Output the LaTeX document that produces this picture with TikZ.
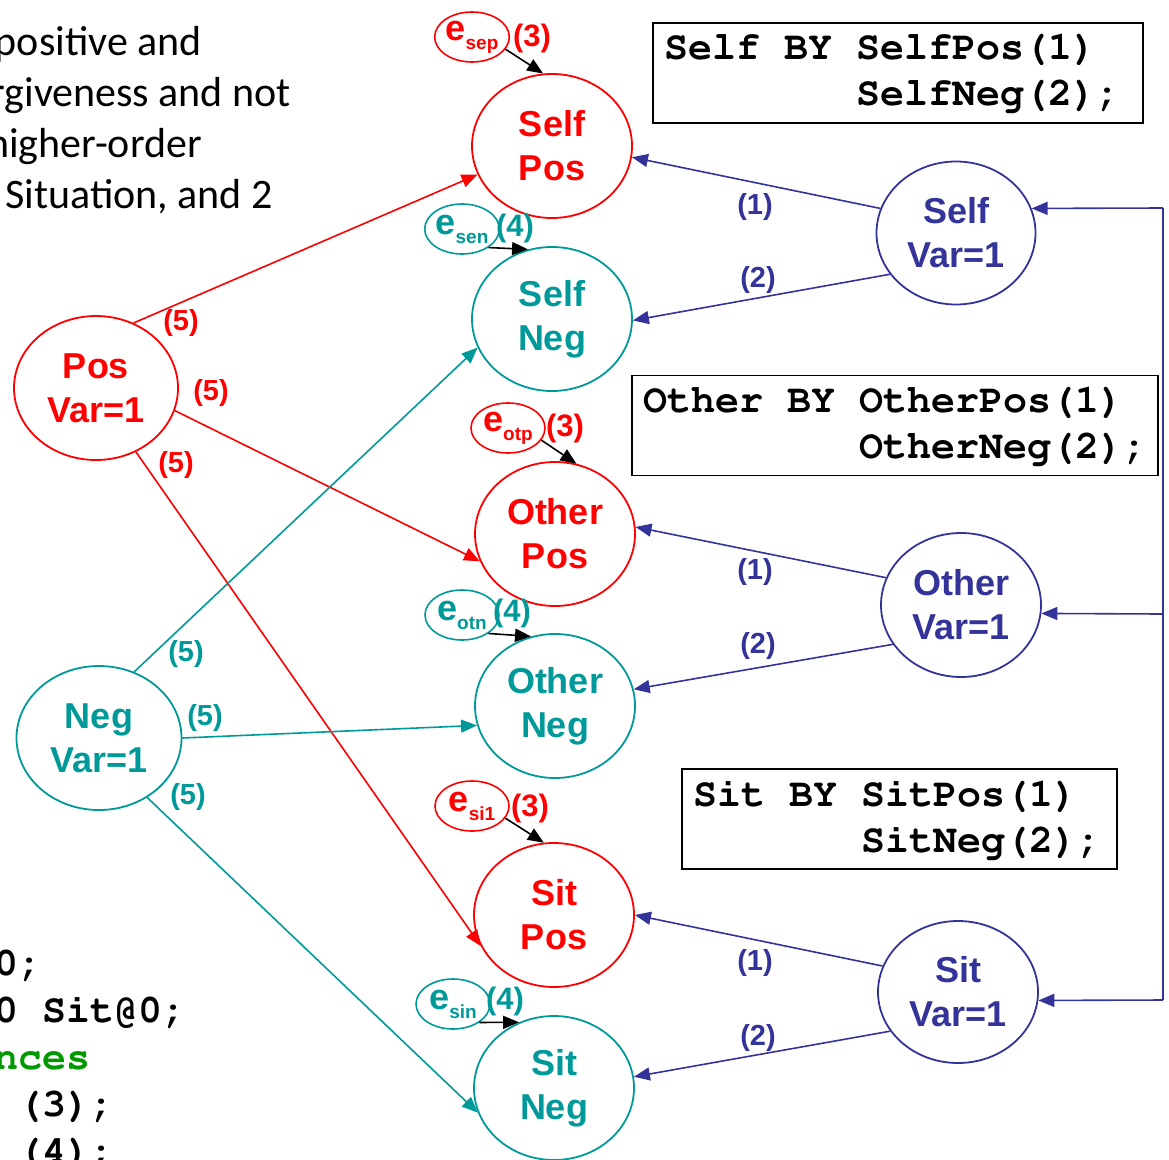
\documentclass[tikz,border=0pt]{standalone}
\usepackage[T1]{fontenc}
\usepackage{fontspec}
\setmainfont{Liberation Sans}
\newfontfamily\slidefont{Carlito}
\newcommand{\codefont}{\fontencoding{T1}\fontfamily{pcr}\selectfont}
\newcommand{\csp}{\hphantom{0}}
\usetikzlibrary{shapes.geometric}
\usetikzlibrary{arrows.meta}
\definecolor{pred}{RGB}{255,0,0}
\definecolor{pteal}{RGB}{0,153,153}
\definecolor{pnavy}{RGB}{51,51,153}
\definecolor{pgreen}{RGB}{0,153,0}
\tikzset{lat/.style={ellipse,draw,line width=1.8pt,minimum width=160pt,minimum height=144pt,inner sep=0pt,align=center,font=\bfseries\fontsize{36}{44}\selectfont},
         err/.style={ellipse,draw,line width=1.6pt,minimum width=74pt,minimum height=50pt,inner sep=0pt,font=\bfseries\fontsize{36}{36}\selectfont},
         arr/.style={line width=1.6pt,-{Triangle[length=16pt,width=13pt]}},
         lab/.style={inner sep=0pt,font=\bfseries\fontsize{29}{29}\selectfont},
         elab/.style={inner sep=0pt,font=\bfseries\fontsize{31}{31}\selectfont},
 codebox/.style={draw,line width=1.8pt,inner xsep=11pt,inner ysep=0pt,minimum height=100pt,align=left,font=\codefont\bfseries\fontsize{40}{46}\selectfont},
    code/.style={anchor=base west,inner sep=0pt,font=\codefont\bfseries\fontsize{40}{46}\selectfont},
   slide/.style={anchor=base east,inner sep=0pt,font=\slidefont\fontsize{42}{51}\selectfont}
         }
\newcommand{\esub}[1]{e\raisebox{-9pt}{\fontsize{19}{19}\selectfont #1}}

\begin{document}
\begin{tikzpicture}[x=1pt,y=-1pt]
\clip (0,0) rectangle (1169,1159);

\node[slide] (t1) at (202,55) {positive and};
\node[slide] (t2) at (291,106) {rgiveness and not};
\node[slide] (t3) at (202,157) {higher-order};
\node[slide] (t4) at (273,208) {Situation, and 2};

\node[code] (c1) at (-6,975) {0;};
\node[code] (c2) at (-6,1022) {0\csp Sit@0;};
\node[code,pgreen] (c3) at (-6,1069) {nces};
\node[code] (c4) at (-6,1116) {\csp(3);};
\node[code] (c5) at (-6,1163) {\csp(4);};

\node[lat,pred] (sp) at (552,146) {Self\\Pos};
\node[lat,pteal] (sn) at (552,319) {Self\\Neg};
\node[lat,pred] (op) at (555,534) {Other\\Pos};
\node[lat,pteal] (on) at (555,706) {Other\\Neg};
\node[lat,pred] (tp) at (554,915) {Sit\\Pos};
\node[lat,pteal] (tn) at (554,1088) {Sit\\Neg};
\node[lat,pred,minimum width=164pt] (pv) at (96,388) {Pos\\Var=1};
\node[lat,pteal,minimum width=165pt] (nv) at (99,738) {Neg\\Var=1};
\node[lat,pnavy,minimum width=159pt,minimum height=143pt] (sv) at (956,233) {Self\\Var=1};
\node[lat,pnavy] (ov) at (961,605) {Other\\Var=1};
\node[lat,pnavy,minimum height=142pt] (tv) at (958,992) {Sit\\Var=1};

\node[err,pred] (esp) at (472,37) {\esub{sep}};
\node[err,pteal] (esn) at (462,229) {\esub{sen}};
\node[err,pred] (eop) at (508,428) {\esub{otp}};
\node[err,pteal] (eon) at (462,615) {\esub{otn}};
\node[err,pred] (etp) at (472,806) {\esub{si1}};
\node[err,pteal] (etn) at (453,1004) {\esub{sin}};
\node[elab,pred] (lsp) at (532,38) {(3)};
\node[elab,pteal] (lsn) at (515,228) {(4)};
\node[elab,pred] (lop) at (565,428) {(3)};
\node[elab,pteal] (lon) at (512,613) {(4)};
\node[elab,pred] (ltp) at (530,808) {(3)};
\node[elab,pteal] (ltn) at (505,1001) {(4)};

\draw[arr] (esp.-20) -- (sp.97);
\draw[arr] (esn.-35) -- (sn.109);
\draw[arr] (eop.-20) -- (op.73);
\draw[arr] (eon.-35) -- (on.109);
\draw[arr] (etp.-20) -- (tp.98);
\draw[arr] (etn.-35) -- (tn.118);

\draw[arr,pred] (pv.60) -- (sp.201);
\draw[arr,pred] (pv.-16) -- (op.200);
\draw[arr,pred] (pv.-58) -- (tp.203);
\draw[arr,pteal] (nv.62) -- (sn.201);
\draw[arr,pteal] (nv.0) -- (on.194);
\draw[arr,pteal] (nv.-51) -- (tn.198);
\node[lab,pred] (p1) at (181,323) {(5)};
\node[lab,pred] (p2) at (211,393) {(5)};
\node[lab,pred] (p3) at (176,465) {(5)};
\node[lab,pteal] (n1) at (186,654) {(5)};
\node[lab,pteal] (n2) at (205,718) {(5)};
\node[lab,pteal] (n3) at (188,797) {(5)};

\draw[arr,pnavy] (sv.162) -- (sp.-8);
\draw[arr,pnavy] (sv.212) -- (sn.-1);
\draw[arr,pnavy] (ov.160) -- (op.5);
\draw[arr,pnavy] (ov.210) -- (on.12);
\draw[arr,pnavy] (tv.161) -- (tp.0);
\draw[arr,pnavy] (tv.210) -- (tn.8);
\node[lab,pnavy] (s1) at (755,207) {(1)};
\node[lab,pnavy] (s2) at (758,280) {(2)};
\node[lab,pnavy] (o1) at (755,572) {(1)};
\node[lab,pnavy] (o2) at (758,646) {(2)};
\node[lab,pnavy] (i1) at (755,963) {(1)};
\node[lab,pnavy] (i2) at (758,1038) {(2)};

\coordinate (rt) at (1163,208);
\coordinate (rm) at (1163,614);
\coordinate (rb) at (1163,1000);
\draw[pnavy,line width=1.6pt] (rt) -- (rb);
\draw[arr,pnavy] (rt) -- (sv.18);
\draw[arr,pnavy] (rm) -- (ov.-6);
\draw[arr,pnavy] (rb) -- (tv.-6);

\node[codebox,text width=468pt] (sbox) at (898,73) {Self\csp BY\csp SelfPos(1)\\\hphantom{Self\csp BY\csp}SelfNeg(2);};
\node[codebox,text width=504pt] (obox) at (895,425.5) {Other\csp BY\csp OtherPos(1)\\\hphantom{Other\csp BY\csp}OtherNeg(2);};
\node[codebox,text width=413pt] (ibox) at (899.5,819) {Sit\csp BY\csp SitPos(1)\\\hphantom{Sit\csp BY\csp}SitNeg(2);};
\end{tikzpicture}
\end{document}
